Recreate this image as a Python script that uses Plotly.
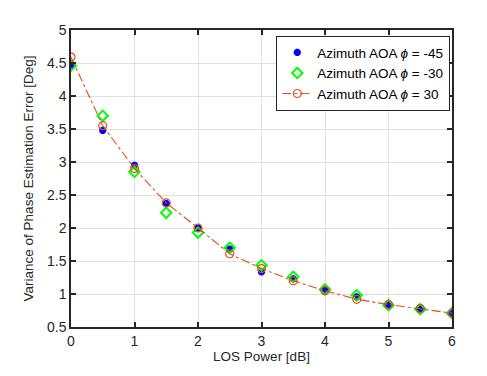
import plotly.graph_objects as go

los_power = [0, 0.5, 1, 1.5, 2, 2.5, 3, 3.5, 4, 4.5, 5, 5.5, 6]
err_m45 = [4.47, 3.48, 2.95, 2.37, 2.00, 1.68, 1.335, 1.23, 1.055, 0.955, 0.84, 0.78, 0.71]
err_m30 = [4.46, 3.70, 2.85, 2.23, 1.93, 1.70, 1.435, 1.26, 1.07, 0.98, 0.83, 0.77, 0.71]
err_p30 = [4.59, 3.55, 2.90, 2.38, 2.00, 1.61, 1.385, 1.20, 1.05, 0.92, 0.84, 0.78, 0.71]

labels = ["Azimuth AOA <i>ϕ</i> = -45", "Azimuth AOA <i>ϕ</i> = -30", "Azimuth AOA <i>ϕ</i> = 30"]

fig = go.Figure()
fig.add_trace(go.Scatter(x=los_power, y=err_m45, mode="markers", name=labels[0],
                         marker=dict(symbol="asterisk-open", size=6, color="#0000FF",
                                     line=dict(color="#0000FF", width=2.5))))
fig.add_trace(go.Scatter(x=los_power, y=err_m30, mode="markers", name=labels[1],
                         marker=dict(symbol="diamond-open", size=8, color="#00FF00",
                                     line=dict(color="#00FF00", width=2))))
fig.add_trace(go.Scatter(x=los_power, y=err_p30, mode="lines+markers", name=labels[2],
                         line=dict(color="#D95319", width=1.1, dash="dashdot"),
                         marker=dict(symbol="circle-open", size=8, color="#D95319",
                                     line=dict(color="#D95319", width=1.2))))

axis_common = dict(showline=True, linecolor="#262626", linewidth=1.5, mirror="ticks",
                   ticks="inside", ticklen=5, tickwidth=1.5, tickcolor="#262626",
                   showgrid=True, gridcolor="#DFDFDF", gridwidth=1.2, zeroline=False,
                   tickfont=dict(size=14, color="#262626"))

fig.update_layout(
    width=487, height=376,
    margin=dict(l=63, r=43, t=22, b=57),
    paper_bgcolor="white", plot_bgcolor="white",
    font=dict(family="Liberation Sans, Arial, sans-serif", color="#262626"),
    xaxis=dict(range=[0, 6], dtick=1, title=dict(text="LOS Power [dB]", font=dict(size=13.5), standoff=4),
               **axis_common),
    yaxis=dict(range=[0.5, 5], dtick=0.5, title=dict(text="Variance of Phase Estimation Error [Deg]", font=dict(size=13.5), standoff=10),
               **axis_common),
    legend=dict(x=0.995, y=0.98, xanchor="right", yanchor="top", bgcolor="white",
                bordercolor="#262626", borderwidth=1.2, font=dict(size=13.5, color="#000000"),
                tracegroupgap=0),
    showlegend=True,
)

fig.write_html("out.html")
